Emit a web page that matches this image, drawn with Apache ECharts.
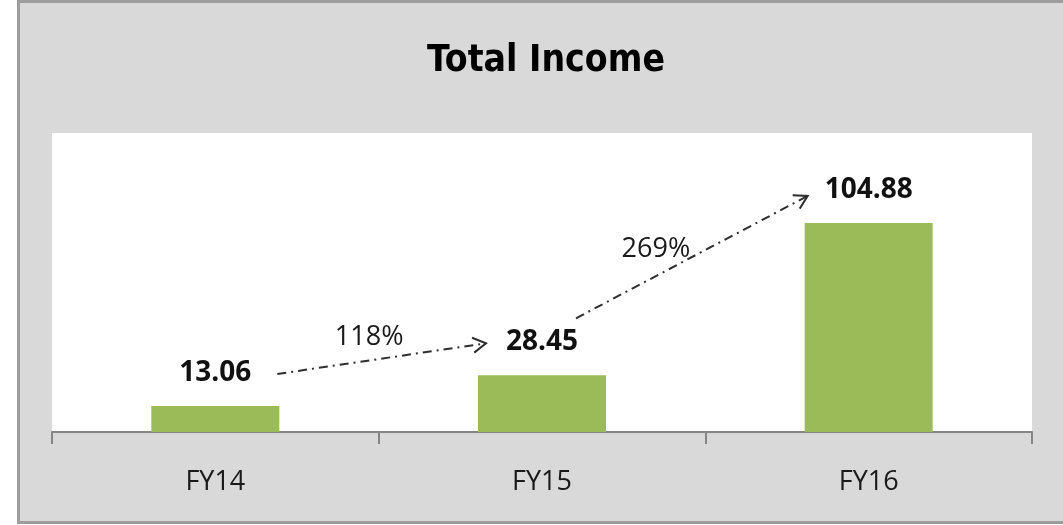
<!DOCTYPE html>
<html>
<head>
<meta charset="utf-8">
<script src="https://cdn.jsdelivr.net/npm/echarts@6/dist/echarts.min.js"></script>
<style>
  html, body { margin: 0; padding: 0; background: #fff; }
  #main { width: 1063px; height: 525px; }
</style>
</head>
<body>
<div id="main"></div>
<script>
// data
const categories = ['FY14', 'FY15', 'FY16']
const incomeValues = [13.06, 28.45, 104.88]
const growthLabels = ['118%', '269%']

const chartInstance = echarts.init(document.getElementById('main'))

const labelFont = "'Open Sans', 'Noto Sans', sans-serif"

const initOption = {
  backgroundColor: '#fff',
  animation: false,
  title: {
    text: 'Total Income',
    left: 541,
    textAlign: 'center',
    top: 38,
    textStyle: {
      fontFamily: "'Liberation Sans Narrow', 'DejaVu Sans Condensed', sans-serif",
      fontSize: 37,
      fontWeight: 'bold',
      color: '#000'
    }
  },
  grid: {
    left: 52,
    right: 31,
    top: 133,
    bottom: 93,
    show: true,
    backgroundColor: '#fff',
    borderWidth: 0
  },
  xAxis: {
    type: 'category',
    data: categories,
    axisLine: { lineStyle: { color: '#868686', width: 2 } },
    axisTick: { show: true, length: 12, lineStyle: { color: '#868686', width: 2 } },
    axisLabel: {
      margin: 37,
      fontSize: 27,
      fontFamily: labelFont,
      color: '#1a1a1a'
    }
  },
  yAxis: {
    type: 'value',
    min: 0,
    max: 150,
    show: false,
    splitLine: { show: false }
  },
  series: [
    {
      type: 'bar',
      data: incomeValues,
      barWidth: 128,
      itemStyle: { color: '#9bbb59' },
      label: {
        show: true,
        position: 'top',
        distance: 19,
        fontSize: 28,
        fontWeight: 'bold',
        fontFamily: labelFont,
        color: '#111'
      }
    }
  ]
}
chartInstance.setOption(initOption)

// 灰色外框 + 增长箭头 (based on bar positions)
const arrowOffsets = [
  { from: [62, -32], to: [-56, -32], t: 0.44, dy: -23 },
  { from: [34, -57], to: [-61, -27], t: 0.345, dy: -27 }
]

const drawExtras = () => {
  const pts = categories.map((c, i) =>
    chartInstance.convertToPixel({ seriesIndex: 0 }, [i, incomeValues[i]]))

  const elements = [
    {
      type: 'rect',
      z: -10,
      shape: { x: 18.5, y: 1.5, width: 1100, height: 521 },
      style: { fill: '#d9d9d9', stroke: '#9d9d9d', lineWidth: 3 }
    }
  ]

  growthLabels.forEach((txt, i) => {
    const o = arrowOffsets[i]
    const x1 = pts[i][0] + o.from[0]
    const y1 = pts[i][1] + o.from[1]
    const x2 = pts[i + 1][0] + o.to[0]
    const y2 = pts[i + 1][1] + o.to[1]
    const ang = Math.atan2(y2 - y1, x2 - x1)
    const head = 15
    const spread = Math.PI / 6

    elements.push({
      type: 'line',
      z: 10,
      shape: { x1, y1, x2, y2 },
      style: { stroke: '#2e2e2e', lineWidth: 2, lineDash: [9, 5, 2, 5] }
    })
    elements.push({
      type: 'polyline',
      z: 10,
      shape: {
        points: [
          [x2 - head * Math.cos(ang - spread), y2 - head * Math.sin(ang - spread)],
          [x2, y2],
          [x2 - head * Math.cos(ang + spread), y2 - head * Math.sin(ang + spread)]
        ]
      },
      style: { stroke: '#2e2e2e', lineWidth: 2, fill: null }
    })
    elements.push({
      type: 'text',
      z: 10,
      x: x1 + (x2 - x1) * o.t,
      y: y1 + (y2 - y1) * o.t + o.dy,
      style: {
        text: txt,
        fontSize: 27,
        fontFamily: labelFont,
        fill: '#1a1a1a',
        align: 'center',
        verticalAlign: 'middle'
      }
    })
  })

  chartInstance.setOption({ graphic: { elements } })
}

drawExtras()
</script>
</body>
</html>
